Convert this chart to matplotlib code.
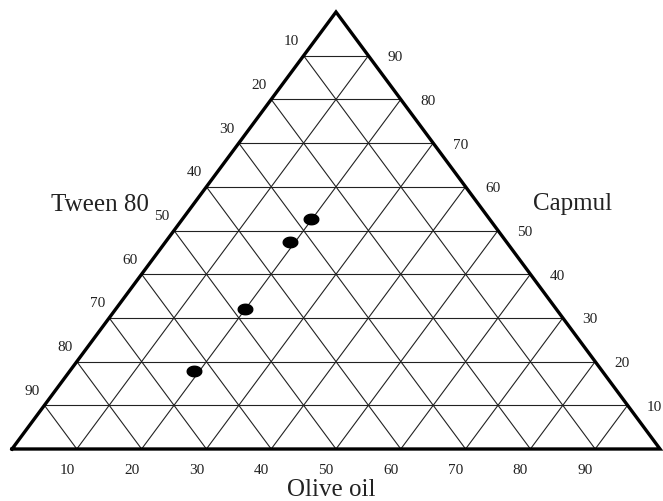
import numpy as np
import matplotlib.pyplot as plt
from matplotlib.path import Path

plt.rcParams['font.family'] = ['Liberation Serif', 'DejaVu Serif']

# composition of the four formulations (%)
olive = [19.8, 19.3, 19.9, 19.2]
capmul = [52.6, 47.3, 32.0, 17.8]
tween = [100 - o - c for o, c in zip(olive, capmul)]

ticks = [10, 20, 30, 40, 50, 60, 70, 80, 90]


def tern(o, c):
    # olive oil -> bottom right vertex, capmul -> top vertex, tween -> bottom left
    o = np.asarray(o) / 100.0
    c = np.asarray(c) / 100.0
    return o + 0.5 * c, c


fig = plt.figure(figsize=(6.63, 5.02), dpi=100)
ax = fig.add_axes([0, 0, 1, 1])
ax.set_xlim(-12 / 648, 651 / 648)
ax.set_ylim(-52 / 437, 450 / 437)
ax.axis('off')

# grid
for k in ticks:
    f = k / 100
    ax.plot([0.5 * f, 1 - 0.5 * f], [f, f], color='#222222', lw=0.8)
    ax.plot([f, f + 0.5 * (1 - f)], [0, 1 - f], color='#222222', lw=0.8)
    ax.plot([1 - f, 0.5 * (1 - f)], [0, 1 - f], color='#222222', lw=0.8)

# outer triangle
ax.plot([0, 1, 0.5, 0], [0, 0, 1, 0], color='black', lw=2.4,
        solid_joinstyle='miter')

# data points (flattened dots)
t = np.linspace(0, 2 * np.pi, 50)
ell = Path(np.column_stack([np.cos(t), 0.72 * np.sin(t)]))
px, py = tern(olive, capmul)
ax.plot(px, py, linestyle='none', marker=ell, markersize=10.5,
        color='black')

# tick labels
for k in ticks:
    f = k / 100
    ax.annotate(str(k), (0.5 * (1 - f), 1 - f), xytext=(-12, 15),
                textcoords='offset pixels', ha='center', va='center',
                fontsize=11, color='#222222')
    ax.annotate(str(k), (1 - 0.5 * f, f), xytext=(27, -1),
                textcoords='offset pixels', ha='center', va='center',
                fontsize=11, color='#222222')
    ax.annotate(str(k), (f, 0), xytext=(-10, -21),
                textcoords='offset pixels', ha='center', va='center',
                fontsize=11, color='#222222')

# axis titles
fig.text(100 / 663, 1 - 205 / 502, 'Tween 80', ha='center', va='center',
         fontsize=18, color='#222222')
fig.text(573 / 663, 1 - 204 / 502, 'Capmul', ha='center', va='center',
         fontsize=18, color='#222222')
fig.text(331 / 663, 1 - 490 / 502, 'Olive oil', ha='center', va='center',
         fontsize=18, color='#222222')

fig.savefig('out.png', dpi=100, facecolor='white')
